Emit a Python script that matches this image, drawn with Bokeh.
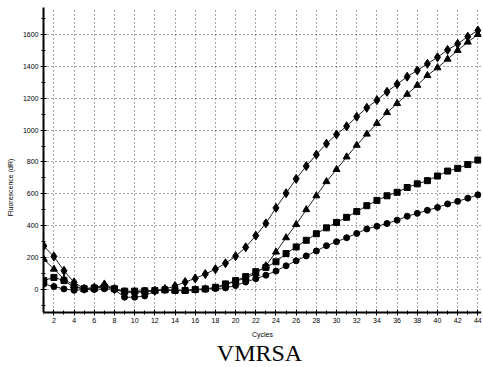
from bokeh.plotting import figure
from bokeh.models import SingleIntervalTicker, Range1d, Label, BoxAnnotation, LinearAxis
from bokeh.embed import file_html
from bokeh.resources import INLINE

cycles = list(range(1, 45))
diamond_series = [273, 207, 118, 45, 5, 12, 25, 2, -17, -17, -14, -8, 3, 22, 47, 70, 97, 128, 165, 209,
                  265, 338, 415, 512, 604, 694, 774, 846, 915, 973, 1024, 1084, 1140, 1188, 1240, 1288,
                  1335, 1374, 1416, 1457, 1503, 1541, 1586, 1625]
triangle_series = [190, 128, 66, 25, 0, 5, 35, 5, -15, -15, -12, -6, -2, -5, -5, 0, 4, 10, 30, 52,
                   72, 100, 149, 235, 325, 408, 501, 588, 677, 753, 832, 905, 975, 1042, 1110, 1167,
                   1225, 1281, 1343, 1391, 1445, 1500, 1552, 1600]
square_series = [56, 76, 56, 14, 5, 10, 15, 5, -10, -10, -8, -6, -2, -6, -6, 0, 4, 14, 35, 56,
                 81, 112, 139, 174, 226, 267, 309, 350, 387, 421, 453, 489, 526, 559, 588, 610,
                 640, 663, 683, 712, 743, 760, 784, 812]
circle_series = [35, 19, 4, -5, 0, 0, 5, 0, -48, -48, -40, -10, -2, -8, -6, -3, 2, 6, 10, 25,
                 47, 68, 90, 116, 149, 180, 211, 242, 275, 300, 325, 352, 380, 397, 414, 435,
                 460, 478, 497, 515, 537, 553, 573, 594]

x_label = "Cycles"
y_label = "Fluorescence (dR)"
title_text = "VMRSA"

Y_AXIS_AT = -144
Y_TOP = 1769

p = figure(width=483, height=367, output_backend="svg", toolbar_location=None,
           x_range=Range1d(0.97, 44.36), y_range=Range1d(-489, Y_TOP),
           x_axis_location=None,
           min_border_left=43, min_border_right=2, min_border_top=7, min_border_bottom=0)
p.outline_line_color = None
p.background_fill_color = "white"

xaxis = LinearAxis(fixed_location=Y_AXIS_AT)
p.add_layout(xaxis, "below")

# blank out the area below the x axis (grid lines stop at the axis)
p.add_layout(BoxAnnotation(top=Y_AXIS_AT, fill_color="white", fill_alpha=1.0,
                           line_alpha=0, level="glyph"))

for ys, mk, sz in [(diamond_series, "diamond", 9), (triangle_series, "triangle", 7),
                   (square_series, "square", 6), (circle_series, "circle", 6)]:
    p.line(cycles, ys, line_color="#222222", line_width=1)
    p.scatter(cycles, ys, marker=mk, size=sz, fill_color="black", line_color="black")

xaxis.ticker = SingleIntervalTicker(interval=2, num_minor_ticks=2)
p.yaxis.ticker = SingleIntervalTicker(interval=200, num_minor_ticks=2)
p.yaxis.bounds = (Y_AXIS_AT, Y_TOP)

for ax in (xaxis, p.yaxis[0]):
    ax.axis_line_width = 2
    ax.axis_line_color = "black"
    ax.major_tick_in = 3
    ax.major_tick_out = 3
    ax.minor_tick_in = 2
    ax.minor_tick_out = 2
    ax.major_tick_line_color = "black"
    ax.minor_tick_line_color = "black"
    ax.major_label_text_font = "Liberation Sans"
    ax.major_label_text_font_size = "7px"
    ax.major_label_text_color = "black"
    ax.axis_label_text_font = "Liberation Sans"
    ax.axis_label_text_font_size = "7px"
    ax.axis_label_text_font_style = "normal"
    ax.axis_label_text_color = "black"

xaxis.axis_label = x_label
p.yaxis.axis_label = y_label
xaxis.major_label_standoff = 3
xaxis.axis_label_standoff = 4
p.yaxis.major_label_standoff = 2
p.yaxis.axis_label_standoff = 6

p.xgrid.ticker = xaxis.ticker
for g in (p.xgrid, p.ygrid):
    g.grid_line_color = "black"
    g.grid_line_dash = "1 3"
    g.grid_line_alpha = 0.7
    g.grid_line_width = 1
p.ygrid.bounds = (Y_AXIS_AT, Y_TOP)

title = Label(x=22.37, y=-395, text=title_text, text_font="Liberation Serif",
              text_font_size="24px", text_align="center", text_baseline="middle",
              text_color="black")
p.add_layout(title)

open("out.html", "w").write(file_html(p, INLINE))
